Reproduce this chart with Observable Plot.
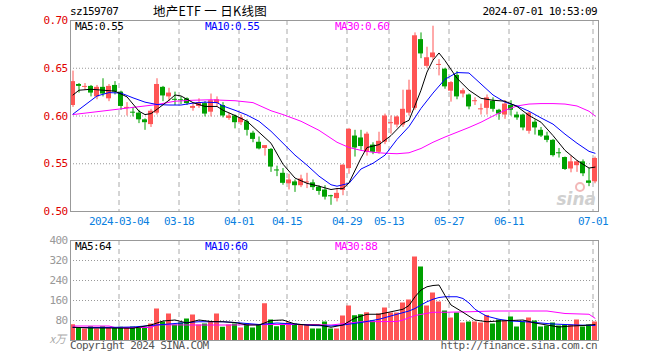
<!DOCTYPE html>
<html><head><meta charset="utf-8">
<script src="https://cdn.jsdelivr.net/npm/d3@7"></script>
<script src="https://cdn.jsdelivr.net/npm/@observablehq/plot@0.6"></script>
<style>
html,body{margin:0;padding:0;background:#fff;}
#chart{position:relative;width:660px;height:360px;overflow:hidden;background:#fff;}
#chart svg{position:absolute;left:0;}
</style></head><body><div id="chart"></div>
<script>
const dates = ["02-21","02-22","02-23","02-26","02-27","02-28","02-29","03-01","03-04","03-05",
"03-06","03-07","03-08","03-11","03-12","03-13","03-14","03-15","03-18","03-19",
"03-20","03-21","03-22","03-25","03-26","03-27","03-28","03-29","04-01","04-02",
"04-03","04-08","04-09","04-10","04-11","04-12","04-15","04-16","04-17","04-18",
"04-19","04-22","04-23","04-24","04-25","04-26","04-29","04-30","05-06","05-07",
"05-08","05-09","05-10","05-13","05-14","05-15","05-16","05-17","05-20","05-21",
"05-22","05-23","05-24","05-27","05-28","05-29","05-30","05-31","06-03","06-04",
"06-05","06-06","06-07","06-11","06-12","06-13","06-14","06-17","06-18","06-19",
"06-20","06-21","06-24","06-25","06-26","06-27","06-28","07-01"];

const open  = [.611,.633,.630,.631,.620,.630,.618,.632,.625,.608, .604,.603,.596,.591,.603,.630,.620,.6175,.617,.618,
.608,.610,.613,.604,.613,.611,.5975,.600,.593,.594, .582,.5725,.566,.565,.5435,.540,.529,.531,.527,.530,
.530,.5255,.5225,.5165,.5135,.522,.545,.579,.577,.562, .5695,.562,.5725,.592,.5905,.5905,.603,.608,.680,.652,
.661,.653,.649,.626,.6425,.623,.622,.615,.6065,.608, .6155,.606,.601,.611,.601,.601,.584,.5935,.585,.579,
.5745,.5615,.5565,.5445,.548,.552,.532,.531];
const high  = [.647,.634,.634,.632,.632,.639,.633,.636,.626,.614, .609,.606,.597,.607,.639,.631,.629,.625,.620,.619,
.613,.618,.615,.623,.620,.614,.603,.601,.601,.596, .584,.578,.569,.566,.5475,.545,.539,.533,.538,.540,
.533,.527,.527,.517,.524,.549,.587,.585,.585,.583, .572,.583,.602,.600,.600,.627,.6375,.687,.687,.672,
.694,.659,.650,.636,.6465,.6285,.623,.619,.6125,.622, .619,.607,.616,.616,.604,.602,.604,.596,.588,.583,
.5755,.566,.557,.558,.553,.554,.545,.557];
const low   = [.609,.624,.627,.620,.617,.620,.615,.622,.606,.600, .599,.592,.585,.588,.601,.615,.615,.611,.612,.611,
.605,.608,.599,.599,.610,.598,.5955,.5865,.590,.579, .572,.5645,.558,.541,.5365,.5275,.5225,.520,.525,.524,
.522,.517,.512,.5065,.510,.5165,.539,.557,.564,.558, .5595,.560,.570,.581,.5875,.588,.600,.606,.660,.650,
.658,.642,.628,.6145,.617,.619,.6065,.611,.601,.601, .604,.5955,.5965,.600,.5955,.5845,.581,.580,.5775,.572,
.557,.556,.543,.5405,.541,.5365,.526,.529];
const close = [.636,.631,.631,.624,.630,.623,.631,.625,.610,.609, .603,.596,.593,.605,.633,.621,.624,.617,.6165,.613,
.610,.614,.602,.616,.617,.600,.600,.593,.598,.585, .5755,.5655,.569,.5465,.543,.5295,.533,.527,.534,.531,
.525,.521,.515,.516,.519,.5485,.586,.5665,.568,.581, .562,.5735,.600,.593,.599,.607,.627,.684,.665,.661,
.666,.654,.6305,.635,.620,.6265,.6095,.616,.6075,.619, .607,.602,.6125,.606,.598,.5875,.603,.5875,.579,.5745,
.5585,.561,.544,.552,.552,.5395,.5295,.5555];
const volume = [63,49,46,55,46,55,49,49,53,51, 54,51,53,66,126,74,106,62,70,86, 102,62,66,75,106,53,62,66,50,66,
50,62,147,82,55,66,71,66,62,62, 46,46,74,46,46,98,138,99,103,111, 78,106,130,110,110,150,162,334,294,138,
190,154,118,90,110,70,74,74,70,100, 66,82,78,94,54,74,90,78,54,58, 70,58,62,62,82,54,62,74];

// moving-average lines: [day index, value]
const priceMA5 = [[0,.622],[1,.627],[3,.628],[5,.627],[7,.626],[9,.620],[11,.605],[12,.6015],[13,.6025],[14,.607],[16,.6165],[17,.622],[18,.621],[20,.614],[22,.610],[24,.610],[25,.606],[27,.6005],[29,.5945],[31,.583],[33,.5715],[35,.5495],[37,.535],[39,.5295],[41,.5265],[43,.523],[44,.524],[45,.524],[46,.530],[48,.556],[49,.567],[51,.570],[53,.5795],[55,.5925],[56,.5955],[57,.611],[58,.627],[59,.646],[60,.6585],[61,.666],[62,.658],[64,.6395],[66,.627],[68,.6185],[70,.6165],[72,.6155],[74,.610],[76,.6005],[78,.5935],[80,.5795],[82,.564],[84,.5535],[86,.5455],[87,.5465]];
const priceMA10 = [[0,.602],[2,.6115],[4,.621],[6,.6245],[8,.624],[10,.619],[12,.6145],[14,.612],[16,.6115],[18,.6115],[20,.6135],[22,.6145],[24,.614],[25,.6105],[27,.606],[29,.601],[31,.5945],[33,.584],[35,.5715],[37,.559],[39,.5485],[41,.537],[43,.528],[44,.5265],[46,.5295],[48,.5445],[50,.5505],[52,.559],[54,.5755],[56,.589],[58,.608],[60,.624],[62,.6385],[64,.6455],[66,.645],[68,.6335],[70,.622],[72,.6145],[74,.6105],[76,.605],[78,.598],[80,.5915],[82,.581],[84,.5715],[86,.563],[87,.561]];
const priceMA30 = [[0,.6015],[6,.606],[10,.609],[14,.612],[17,.6155],[20,.6165],[23,.617],[27,.616],[30,.614],[33,.6055],[35,.6015],[38,.5945],[41,.585],[44,.5725],[46,.567],[48,.564],[50,.562],[52,.561],[54,.5605],[56,.5615],[58,.566],[60,.5725],[62,.578],[64,.583],[66,.588],[68,.5935],[70,.600],[72,.606],[74,.6105],[76,.6125],[78,.613],[80,.613],[82,.6125],[84,.6105],[86,.605],[87,.600]];
const volMA5 = [[0,53],[3,50],[6,50],[10,49],[13,62],[15,78],[17,82],[19,70],[21,82],[23,76],[25,75],[27,72],[29,62],[31,62],[33,80],[35,82],[37,66],[39,62],[41,62],[43,53],[45,62],[47,90],[49,105],[51,105],[53,115],[55,125],[56,140],[57,175],[58,202],[59,215],[60,220],[61,222],[62,180],[63,142],[65,113],[67,82],[69,75],[71,78],[73,80],[75,82],[77,70],[79,62],[81,54],[83,58],[85,60],[87,64]];
const volMA10 = [[0,52],[5,52],[10,54],[13,60],[15,64],[18,70],[21,75],[25,75],[28,70],[31,64],[34,70],[37,66],[40,60],[43,58],[45,62],[48,72],[51,85],[54,105],[56,118],[57,128],[58,142],[59,155],[60,165],[61,172],[62,175],[64,175],[65,168],[66,150],[67,125],[68,110],[69,97],[71,85],[73,78],[76,74],[80,66],[84,62],[87,60]];
const volMA30 = [[0,58],[6,58],[7,52],[13,52],[14,63],[20,62],[26,62],[33,64],[40,64],[43,62],[48,75],[54,76],[55,82],[57,100],[60,113],[62,113],[66,115],[70,118],[79,118],[82,108],[86,105],[87,89]];

const tickIdx = [8,18,28,36,46,53,63,73,87];
const tickLabels = ["2024-03-04","03-18","04-01","04-15","04-29","05-13","05-27","06-11","07-01"];
const priceTicks = [0.50,0.55,0.60,0.65,0.70];
const priceGrid = [0.55,0.60,0.65];
const volTicks = [80,160,240,320,400];
const volGrid = [80,160,240,320];

const UP = "#ff5555", DOWN = "#00a000";
const MONO = "'DejaVu Sans Mono', 'Liberation Mono', monospace";
const hw = 2.5/6;
const xDomain = [-hw, 87 + 3.5/6];
const minBody = 0.00105;
const candles = dates.map((d,i)=>{
  const up = close[i] >= open[i];
  let top = Math.max(open[i], close[i]), bot = Math.min(open[i], close[i]);
  if (top - bot < minBody) bot = top - minBody;
  return {i, d, o:open[i], h:high[i], l:low[i], c:close[i], v:volume[i], up, top, bot, col: up?UP:DOWN};
});
const gridX = tickIdx.map(i => i - 1/3);
const fmt2 = d3.format(".2f");
const baseStyle = {fontFamily: MONO, fontSize: "11px", letterSpacing: "-0.6px", background: "transparent", overflow: "visible"};

const price = Plot.plot({
  width: 660, height: 230, marginLeft: 70, marginRight: 62, marginTop: 20, marginBottom: 19,
  x: {domain: xDomain, axis: null},
  y: {domain: [0.5, 0.7], axis: null},
  color: {type: "identity"},
  style: baseStyle,
  marks: [
    Plot.ruleY(priceGrid, {stroke: "#999", strokeDasharray: "1,2"}),
    Plot.ruleX(gridX, {stroke: "#aaa", strokeDasharray: "5,4"}),
    Plot.ruleX(candles, {x: "i", y1: "l", y2: "h", stroke: "col"}),
    Plot.rect(candles, {x1: d => d.i - hw, x2: d => d.i + hw, y1: "bot", y2: "top", fill: "col"}),
    Plot.line(priceMA30, {x: d => d[0], y: d => d[1], stroke: "#ff00ff", strokeWidth: 1}),
    Plot.line(priceMA10, {x: d => d[0], y: d => d[1], stroke: "#0000ff", strokeWidth: 1}),
    Plot.line(priceMA5, {x: d => d[0], y: d => d[1], stroke: "#000", strokeWidth: 1}),
    Plot.frame({stroke: "#999"}),
    Plot.text(priceTicks, {x: () => xDomain[0], y: d => d, text: d => fmt2(d), textAnchor: "end", dx: -3, fill: "#e00000"}),
    Plot.text(tickIdx, {x: d => d - 1/3, y: () => 0.5, text: (d, i) => tickLabels[i], dy: 10, fill: "#0a80e0"})
  ]
});
price.style.top = "0px";

const vol = Plot.plot({
  width: 660, height: 130, marginLeft: 70, marginRight: 62, marginTop: 10, marginBottom: 20,
  x: {domain: xDomain, axis: null},
  y: {domain: [0, 400], axis: null},
  color: {type: "identity"},
  style: baseStyle,
  marks: [
    Plot.ruleY(volGrid, {stroke: "#999", strokeDasharray: "1,2"}),
    Plot.ruleX(gridX, {stroke: "#aaa", strokeDasharray: "5,4"}),
    Plot.rect(candles, {x1: d => d.i - hw, x2: d => d.i + hw, y1: 0, y2: "v", fill: "col"}),
    Plot.line(volMA30, {x: d => d[0], y: d => d[1], stroke: "#ff00ff", strokeWidth: 1}),
    Plot.line(volMA10, {x: d => d[0], y: d => d[1], stroke: "#0000ff", strokeWidth: 1}),
    Plot.line(volMA5, {x: d => d[0], y: d => d[1], stroke: "#000", strokeWidth: 1}),
    Plot.frame({stroke: "#999"}),
    Plot.text(volTicks, {x: () => xDomain[0], y: d => d, text: d => String(d), textAnchor: "end", dx: -3, fill: "#999"})
  ]
});
vol.style.top = "230px";

const root = document.getElementById("chart");
root.appendChild(price);
root.appendChild(vol);

function addText(svg, x, y, str, opts = {}) {
  const t = d3.select(svg).append("text")
    .attr("x", x).attr("y", y)
    .attr("text-anchor", opts.anchor || "start")
    .attr("fill", opts.fill || "#000")
    .style("font-family", opts.family || MONO)
    .style("font-size", (opts.size || 11) + "px")
    .style("letter-spacing", opts.ls != null ? opts.ls : "-0.6px")
    .text(str);
  if (opts.italic) t.style("font-style", "italic");
  if (opts.weight) t.style("font-weight", opts.weight);
  return t;
}
// header
addText(price, 70, 15, "sz159707");
addText(price, 210, 15.5, "地产ETF 一 日K线图", {anchor: "middle", family: "'Noto Sans CJK SC', sans-serif", size: 12.5, ls: "0.3px"});
addText(price, 597, 15, "2024-07-01 10:53:09", {anchor: "end"});
// MA legends
addText(price, 75, 30, "MA5:0.55", {fill: "#000"});
addText(price, 205, 30, "MA10:0.55", {fill: "#0000ff"});
addText(price, 335, 30, "MA30:0.60", {fill: "#ff00ff"});
// watermark
addText(price, 596, 205, "sina", {anchor: "end", fill: "#d0d0d0", size: 17, italic: true, weight: "bold", family: "'DejaVu Sans', sans-serif", ls: "0px"});
d3.select(price).append("circle").attr("cx", 580).attr("cy", 187).attr("r", 4).attr("fill", "none").attr("stroke", "#f2b8b8").attr("stroke-width", 2);

addText(vol, 75, 20, "MA5:64", {fill: "#000"});
addText(vol, 205, 20, "MA10:60", {fill: "#0000ff"});
addText(vol, 335, 20, "MA30:88", {fill: "#ff00ff"});
addText(vol, 66, 113, "x万", {anchor: "end", fill: "#aaa", italic: true, family: "'Noto Sans CJK SC', sans-serif", size: 11, ls: "0px"});
addText(vol, 70, 119, "Copyright 2024 SINA.COM", {fill: "#555"});
addText(vol, 597, 119, "http://finance.sina.com.cn", {anchor: "end", fill: "#555"});
</script></body></html>
